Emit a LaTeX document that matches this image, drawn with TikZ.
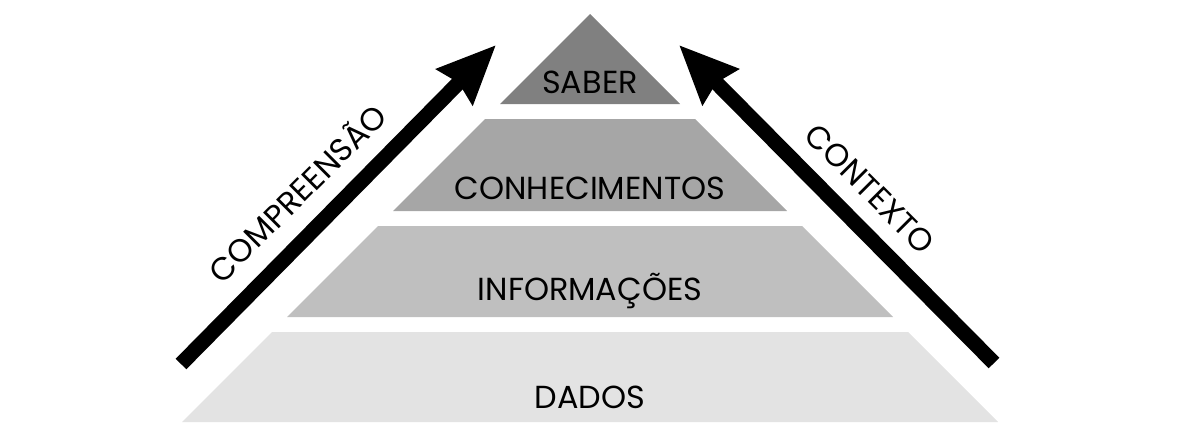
\documentclass[tikz,border=0pt]{standalone}
\usepackage{fontspec}
\setmainfont{Poppins}
\usetikzlibrary{arrows.meta}
\definecolor{csaber}{HTML}{808080}
\definecolor{cconh}{HTML}{A6A6A6}
\definecolor{cinfo}{HTML}{BFBFBF}
\definecolor{cdados}{HTML}{E3E3E3}
\tikzset{
  lbl/.style={inner sep=0pt, anchor=base,
    font=\fontsize{32}{32}\selectfont, text=black},
  bigarrow/.style={line width=15bp, line cap=butt,
    -{Stealth[length=58bp, width=49bp, inset=5bp]}},
}
\begin{document}
\begin{tikzpicture}[x=1bp,y=-1bp]
\useasboundingbox (0,0) rectangle (1181,429);
% layers
\fill[csaber] (590,14) -- (680,104) -- (500,104) -- cycle;
\fill[cconh] (485,119) -- (695,119) -- (787,211) -- (393,211) -- cycle;
\fill[cinfo] (378,226) -- (802,226) -- (893,317) -- (287,317) -- cycle;
\fill[cdados] (272,332) -- (908,332) -- (998,422) -- (182,422) -- cycle;
% labels
\node[lbl] (saber) at (590,93.3) {SABER};
\node[lbl] (conh) at (590,199) {CONHECIMENTOS};
\node[lbl] (info) at (590,300.3) {INFORMAÇÕES};
\node[lbl] (dados) at (590,408.3) {DADOS};
% arrows
\coordinate (lt) at (181,364);
\coordinate (lh) at (496,45);
\coordinate (rt) at (994,363);
\coordinate (rh) at (679,45);
\draw[bigarrow] (lt) -- (lh);
\draw[bigarrow] (rt) -- (rh);
\node[lbl, rotate=45] (compr) at (305.8,201.8) {COMPREENSÃO};
\node[lbl, rotate=-45] (ctx) at (862.2,196.8) {CONTEXTO};
\end{tikzpicture}
\end{document}
